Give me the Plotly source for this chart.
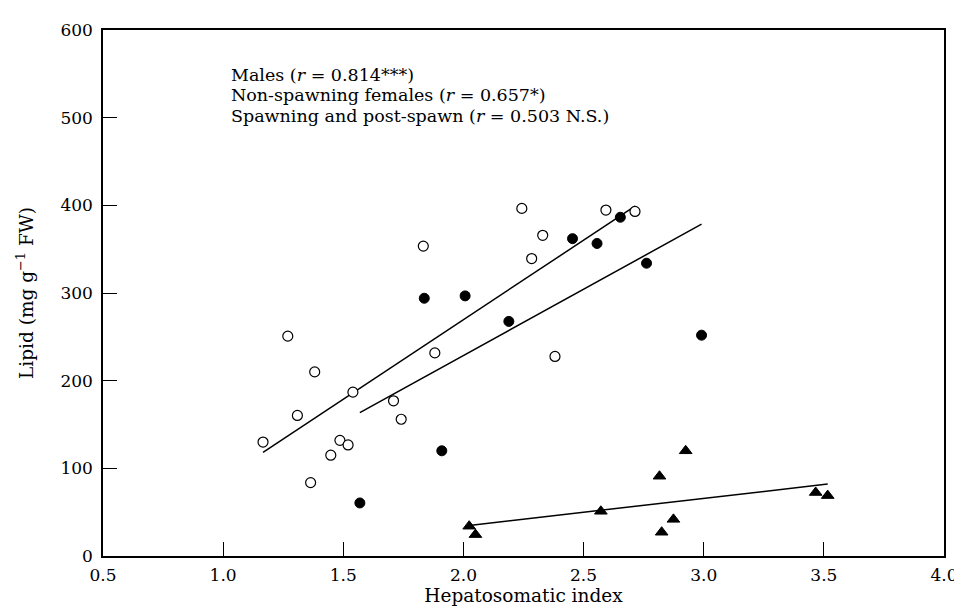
import numpy as np
import plotly.graph_objects as go

# Males (open circles)
males_hsi = [1.166, 1.269, 1.309, 1.364, 1.381, 1.448, 1.486, 1.520, 1.540, 1.709,
             1.741, 1.833, 1.881, 2.243, 2.284, 2.330, 2.381, 2.593, 2.714]
males_lipid = [130, 250.8, 160.3, 83.7, 210, 115, 131.9, 126.7, 186.9, 177,
               156, 353.5, 231.7, 396.5, 339.3, 365.8, 227.6, 394.6, 393]

# Non-spawning females (filled circles)
fem_hsi = [1.569, 1.837, 1.910, 2.007, 2.189, 2.454, 2.556, 2.653, 2.762, 2.991]
fem_lipid = [60.5, 294, 120, 296.7, 267.6, 362, 356.5, 386.4, 334, 251.9]

# Spawning and post-spawn (filled triangles)
spawn_hsi = [2.024, 2.050, 2.572, 2.816, 2.825, 2.874, 2.925, 3.466, 3.516]
spawn_lipid = [34, 24.4, 51, 91, 27.1, 41.8, 120, 72.4, 68.9]

legend_lines = [
    "Males (<i>r</i> = 0.814***)",
    "Non-spawning females (<i>r</i> = 0.657*)",
    "Spawning and post-spawn (<i>r</i> = 0.503 N.S.)",
]

x_ticks = [0.5, 1.0, 1.5, 2.0, 2.5, 3.0, 3.5, 4.0]
y_ticks = [0, 100, 200, 300, 400, 500, 600]

FONT = "DejaVu Serif"

fig = go.Figure()


def fit_line(xs, ys):
    xs = np.asarray(xs, float)
    ys = np.asarray(ys, float)
    b, a = np.polyfit(xs, ys, 1)
    xr = np.array([xs.min(), xs.max()])
    return xr, a + b * xr


for xs, ys in [(males_hsi, males_lipid), (fem_hsi, fem_lipid), (spawn_hsi, spawn_lipid)]:
    lx, ly = fit_line(xs, ys)
    fig.add_trace(go.Scatter(x=lx, y=ly, mode="lines",
                             line=dict(color="black", width=1.5),
                             showlegend=False, hoverinfo="skip"))

fig.add_trace(go.Scatter(x=males_hsi, y=males_lipid, mode="markers",
                         marker=dict(symbol="circle", size=10, color="white",
                                     line=dict(color="black", width=1.2)),
                         showlegend=False))
fig.add_trace(go.Scatter(x=fem_hsi, y=fem_lipid, mode="markers",
                         marker=dict(symbol="circle", size=10, color="black",
                                     line=dict(color="black", width=1)),
                         showlegend=False))
fig.add_trace(go.Scatter(x=spawn_hsi, y=spawn_lipid, mode="markers",
                         marker=dict(symbol="triangle-up", size=11, color="black",
                                     line=dict(color="black", width=1)),
                         showlegend=False))

for i, t in enumerate(legend_lines):
    fig.add_annotation(text=t, xref="paper", yref="paper",
                       x=0.150, y=0.937 - i * 0.0385,
                       xanchor="left", yanchor="top", showarrow=False,
                       font=dict(family=FONT, size=17.5, color="black"))

axis_common = dict(
    showgrid=False, zeroline=False, showline=True, linecolor="black", linewidth=1.5,
    mirror=True, ticks="inside", ticklen=14, tickwidth=1, tickcolor="black",
    tickfont=dict(family=FONT, size=17, color="black"),
)

fig.update_xaxes(range=[0.5, 4.0], tickvals=x_ticks,
                 ticktext=[f"{v:.1f}" for v in x_ticks],
                 ticklabelstandoff=3,
                 title=dict(text="Hepatosomatic index",
                            font=dict(family=FONT, size=18.5, color="black"),
                            standoff=2),
                 **axis_common)
fig.update_yaxes(range=[0, 600], tickvals=y_ticks,
                 ticktext=[str(v) for v in y_ticks],
                 ticklabelstandoff=5,
                 title=dict(text="Lipid (mg g<sup>−1</sup> FW)",
                            font=dict(family=FONT, size=18.5, color="black"),
                            standoff=22),
                 **axis_common)

fig.update_layout(
    width=962, height=609,
    margin=dict(l=95, r=25, t=13, b=61),
    plot_bgcolor="white", paper_bgcolor="white",
    font=dict(family=FONT, color="black"),
)

fig.write_html("out.html")
